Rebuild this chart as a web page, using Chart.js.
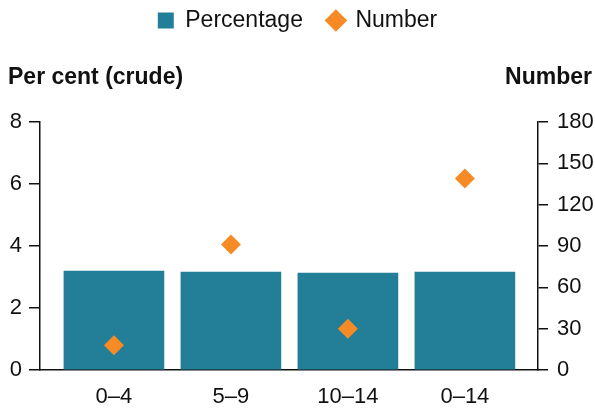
<!DOCTYPE html>
<html>
<head>
<meta charset="utf-8">
<script src="https://cdn.jsdelivr.net/npm/chart.js@4.4.1/dist/chart.umd.min.js"></script>
<style>
  html, body { margin: 0; padding: 0; background: #fff; }
  #wrap { width: 595px; height: 413px; position: relative; }
</style>
</head>
<body>
<div id="wrap"><canvas id="c"></canvas></div>
<script>
const categories = ['0–4', '5–9', '10–14', '0–14'];
const percentage = [3.19, 3.16, 3.13, 3.16];
const number = [18, 91, 30, 139];
const leftTicks = [0, 2, 4, 6, 8];
const rightTicks = [0, 30, 60, 90, 120, 150, 180];

const TEAL = '#237E97';
const ORANGE = '#F68B26';
const INK = '#111';
const FONT = '"Liberation Sans", Arial, sans-serif';

// axis headings sit above the plot, not rotated
const headings = {
    id: 'headings',
    afterDraw(chart) {
        const ctx = chart.ctx;
        ctx.save();
        ctx.font = 'bold 23px ' + FONT;
        ctx.fillStyle = INK;
        ctx.textBaseline = 'middle';
        ctx.textAlign = 'left';
        ctx.fillText('Per cent (crude)', 8, 78);
        ctx.textAlign = 'right';
        ctx.fillText('Number', 592, 78);
        ctx.restore();
    }
};

// make room under the legend for the headings
const legendHeight = {
    id: 'legendHeight',
    beforeInit(chart) {
        const fit = chart.legend.fit;
        chart.legend.fit = function () {
            fit.call(this);
            this.height = 138;
        };
    }
};

new Chart(document.getElementById('c'), {
    type: 'bar',
    data: {
        datasets: [
            {
                label: 'Percentage',
                data: percentage.map((v, i) => ({ x: i, y: v })),
                backgroundColor: TEAL,
                barThickness: 100,
                yAxisID: 'y',
                pointStyle: 'rect',
                order: 1
            },
            {
                type: 'scatter',
                label: 'Number',
                data: number.map((v, i) => ({ x: i, y: v })),
                backgroundColor: ORANGE,
                borderWidth: 0,
                pointStyle: 'rectRot',
                pointRadius: 10,
                yAxisID: 'y1',
                order: 0
            }
        ]
    },
    options: {
        responsive: true,
        maintainAspectRatio: false,
        animation: false,
        layout: { padding: { top: -16, left: 0, right: 0, bottom: 0 } },
        plugins: {
            legend: {
                position: 'top',
                labels: {
                    usePointStyle: true,
                    boxWidth: 16,
                    boxHeight: 16,
                    padding: 25,
                    color: INK,
                    font: { family: FONT, size: 23 },
                    sort: (a, b) => a.datasetIndex - b.datasetIndex
                }
            },
            tooltip: { enabled: false }
        },
        scales: {
            x: {
                type: 'linear',
                offset: false,
                min: -0.632,
                max: 3.625,
                afterBuildTicks: axis => { axis.ticks = categories.map((c, i) => ({ value: i })); },
                afterFit: axis => { axis.height = 43; },
                grid: { display: false },
                border: { display: true, color: INK, width: 1.5 },
                ticks: {
                    padding: 6,
                    maxRotation: 0,
                    color: INK,
                    font: { family: FONT, size: 22 },
                    callback: v => categories[v]
                }
            },
            y: {
                position: 'left',
                min: 0,
                max: 8,
                afterBuildTicks: axis => { axis.ticks = leftTicks.map(v => ({ value: v })); },
                afterFit: axis => { axis.width = 40; },
                grid: { drawOnChartArea: false, tickLength: 11, color: INK, lineWidth: 1.5 },
                border: { display: true, color: INK, width: 1.5 },
                ticks: { padding: 7, color: INK, font: { family: FONT, size: 22 } }
            },
            y1: {
                position: 'right',
                min: 0,
                max: 180,
                afterBuildTicks: axis => { axis.ticks = rightTicks.map(v => ({ value: v })); },
                afterFit: axis => { axis.width = 57; },
                grid: { drawOnChartArea: false, tickLength: 10, color: INK, lineWidth: 1.5 },
                border: { display: true, color: INK, width: 1.5 },
                ticks: { padding: 9, color: INK, font: { family: FONT, size: 22 } }
            }
        }
    },
    plugins: [headings, legendHeight]
});
</script>
</body>
</html>
